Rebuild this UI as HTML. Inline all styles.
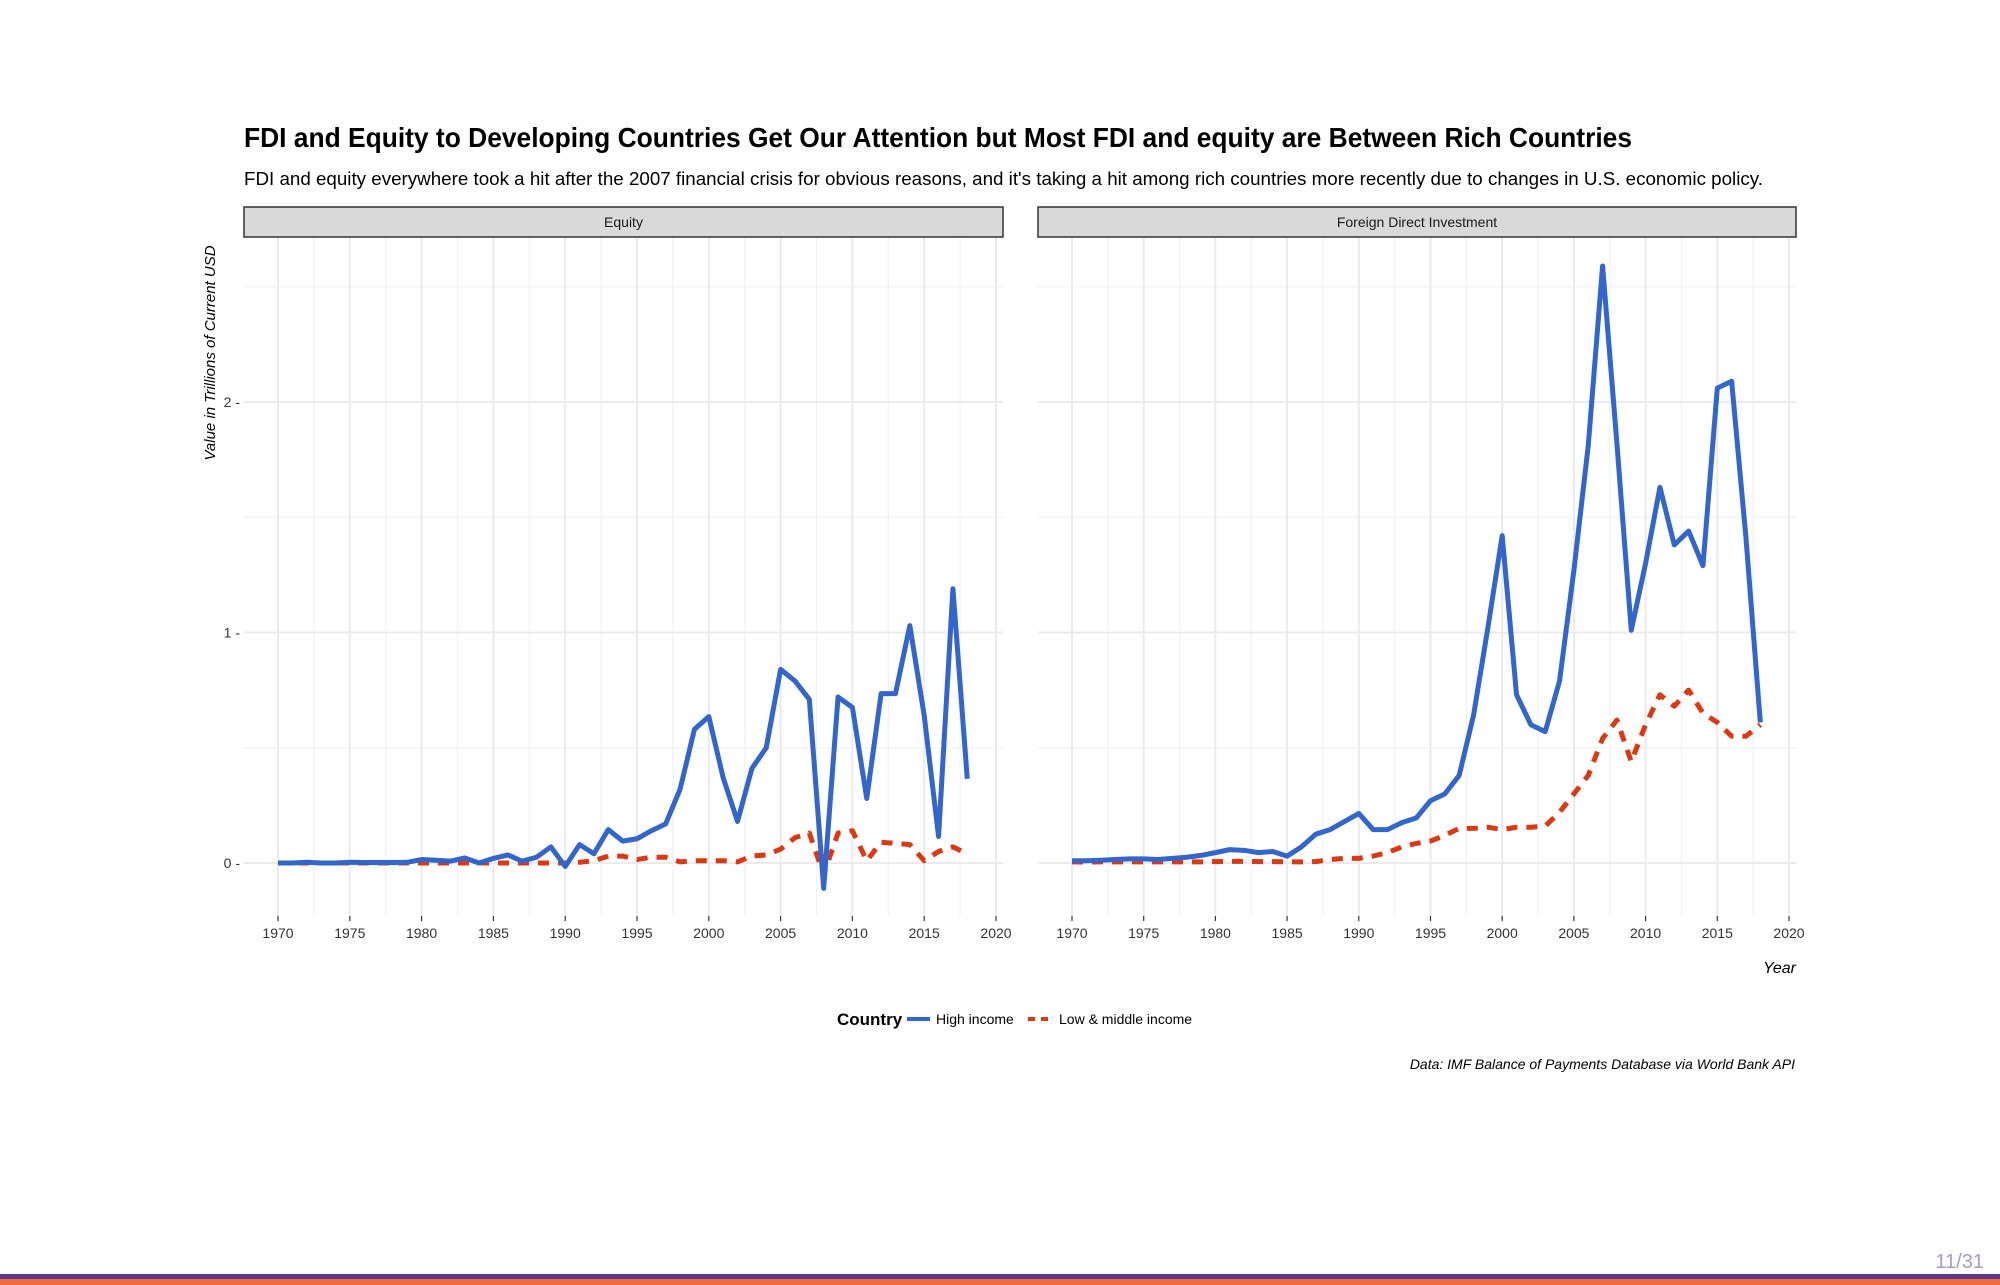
<!DOCTYPE html>
<html><head><meta charset="utf-8"><style>
html,body{margin:0;padding:0;background:#fff;}
svg{display:block;font-family:"Liberation Sans",sans-serif;}
</style></head><body>
<svg id="chart" width="2000" height="1285" viewBox="0 0 2000 1285" xmlns="http://www.w3.org/2000/svg">
<text x="244" y="147" font-size="28" font-weight="bold" textLength="1388" lengthAdjust="spacingAndGlyphs" fill="#000">FDI and Equity to Developing Countries Get Our Attention but Most FDI and equity are Between Rich Countries</text>
<text x="244" y="185" font-size="18" textLength="1519" lengthAdjust="spacingAndGlyphs" fill="#000">FDI and equity everywhere took a hit after the 2007 financial crisis for obvious reasons, and it's taking a hit among rich countries more recently due to changes in U.S. economic policy.</text>
<text transform="translate(215,353) rotate(-90)" text-anchor="middle" font-size="15" font-style="italic" fill="#000">Value in Trillions of Current USD</text>
<text x="1796" y="973" text-anchor="end" font-size="16" font-style="italic" fill="#000">Year</text>
<g id="panels"></g>
<g>
<text x="837" y="1025" font-size="17" font-weight="bold" fill="#000">Country</text>
<line x1="907" y1="1019" x2="930" y2="1019" stroke="#3366cc" stroke-width="4"/>
<text x="936" y="1024" font-size="14" fill="#000">High income</text>
<line x1="1028" y1="1019" x2="1051" y2="1019" stroke="#dc3912" stroke-width="4" stroke-dasharray="7,6"/>
<text x="1059" y="1024" font-size="14" fill="#000">Low &amp; middle income</text>
</g>
<text x="1795" y="1069" text-anchor="end" font-size="14" font-style="italic" fill="#000">Data: IMF Balance of Payments Database via World Bank API</text>
<text x="1984" y="1268" text-anchor="end" font-size="20" fill="#a99bc9">11/31</text>
<rect x="0" y="1274" width="2000" height="5" fill="#5b3a8c"/>
<rect x="0" y="1279" width="2000" height="6" fill="#f26b3a"/>
</svg>
<script>
const years = [];
for (let y = 1970; y <= 2018; y++) years.push(y);
const xTicks = [1970,1975,1980,1985,1990,1995,2000,2005,2010,2015,2020];
const yTicks = [0,1,2];
const yMinor = [0.5,1.5,2.5];
const panelNames = ["Equity","Foreign Direct Investment"];
const equityHigh = [0,0,0.003,0,0,0.003,0.002,0.002,0.002,0.003,0.015,0.012,0.008,0.022,0,0.02,0.035,0.008,0.025,0.07,-0.015,0.08,0.04,0.145,0.095,0.105,0.14,0.17,0.32,0.58,0.635,0.37,0.18,0.41,0.5,0.84,0.79,0.71,-0.11,0.72,0.675,0.28,0.735,0.735,1.03,0.64,0.115,1.19,0.365];
const equityLow = [0,0,0,0,0,0,0,0,0,0,0,0,0,0,0,0,0,0,0,0,0,0.003,0.01,0.03,0.03,0.015,0.025,0.025,0.005,0.01,0.01,0.01,0.005,0.03,0.035,0.06,0.11,0.13,-0.05,0.13,0.14,0.01,0.09,0.085,0.08,0.01,0.05,0.07,0.04];
const fdiHigh = [0.01,0.01,0.012,0.015,0.018,0.018,0.015,0.02,0.025,0.033,0.045,0.058,0.055,0.045,0.05,0.03,0.07,0.125,0.145,0.18,0.215,0.145,0.145,0.175,0.195,0.27,0.3,0.38,0.64,1.02,1.42,0.73,0.6,0.57,0.79,1.27,1.81,2.59,1.82,1.01,1.3,1.63,1.38,1.44,1.29,2.06,2.09,1.41,0.61];
const fdiLow = [0.005,0.004,0.005,0.005,0.005,0.005,0.005,0.005,0.005,0.005,0.006,0.007,0.007,0.006,0.006,0.005,0.005,0.006,0.015,0.02,0.02,0.03,0.045,0.07,0.085,0.095,0.12,0.15,0.15,0.155,0.145,0.155,0.155,0.16,0.22,0.3,0.38,0.54,0.62,0.44,0.6,0.73,0.68,0.75,0.65,0.61,0.55,0.55,0.6];

const NS = "http://www.w3.org/2000/svg";
const panelGroup = document.getElementById("panels");
const panels = [
  {name: panelNames[0], x0: 244, x1: 1003, hi: equityHigh, lo: equityLow, key: "equity"},
  {name: panelNames[1], x0: 1038, x1: 1796, hi: fdiHigh, lo: fdiLow, key: "fdi"}
];
const plotTop = 237, plotBottom = 916;
function yScale(v) { return 863 - v * 230.5; }
function mk(tag, attrs) { const e = document.createElementNS(NS, tag); for (const k in attrs) e.setAttribute(k, attrs[k]); return e; }

panels.forEach(p => {
  const xs = v => (p.x0 + 34) + (v - 1970) * (p.x1 - p.x0 - 41) / 50;
  const pg = mk("g", {});
  
  
  panelGroup.appendChild(pg);
  yMinor.forEach(v => {
    const l = mk("line", {x1: p.x0, x2: p.x1, y1: yScale(v), y2: yScale(v), stroke: "#f2f2f2", "stroke-width": 1.2});
    
    
    pg.appendChild(l);
  });
  for (let t = 1972.5; t < 2020; t += 5) {
    const l = mk("line", {x1: xs(t), x2: xs(t), y1: plotTop, y2: plotBottom, stroke: "#f2f2f2", "stroke-width": 1.2});
    
    
    pg.appendChild(l);
  }
  yTicks.forEach(v => {
    const l = mk("line", {x1: p.x0, x2: p.x1, y1: yScale(v), y2: yScale(v), stroke: "#ebebeb", "stroke-width": 2});
    
    
    pg.appendChild(l);
    if (p.key === "equity") {
      const t = mk("text", {x: 240, y: yScale(v) + 5, "text-anchor": "end", "font-size": 14, fill: "#333"});
      t.textContent = v + " -";
      
      
      pg.appendChild(t);
    }
  });
  xTicks.forEach(v => {
    const l = mk("line", {x1: xs(v), x2: xs(v), y1: plotTop, y2: plotBottom, stroke: "#ebebeb", "stroke-width": 2});
    
    
    pg.appendChild(l);
    const tk = mk("line", {x1: xs(v), x2: xs(v), y1: plotBottom, y2: plotBottom + 5, stroke: "#333", "stroke-width": 1.2});
    
    
    pg.appendChild(tk);
    const t = mk("text", {x: xs(v), y: 938, "text-anchor": "middle", "font-size": 14, fill: "#333"});
    t.textContent = v;
    
    
    pg.appendChild(t);
  });
  const strip = mk("rect", {x: p.x0, y: 207, width: p.x1 - p.x0, height: 30, fill: "#d9d9d9", stroke: "#333", "stroke-width": 1.5});
  
  
  pg.appendChild(strip);
  const st = mk("text", {x: (p.x0 + p.x1) / 2, y: 227, "text-anchor": "middle", "font-size": 14, fill: "#1a1a1a"});
  st.textContent = p.name;
  
  
  pg.appendChild(st);
  const lo = mk("polyline", {points: years.map((y, i) => xs(y) + "," + yScale(p.lo[i])).join(" "), fill: "none", stroke: "#dc3912", "stroke-width": 5, "stroke-dasharray": "11,9", "stroke-linejoin": "round"});
  
  
  pg.appendChild(lo);
  const hi = mk("polyline", {points: years.map((y, i) => xs(y) + "," + yScale(p.hi[i])).join(" "), fill: "none", stroke: "#3366cc", "stroke-width": 5, "stroke-linejoin": "round"});
  
  
  pg.appendChild(hi);
});
</script>
</body></html>
